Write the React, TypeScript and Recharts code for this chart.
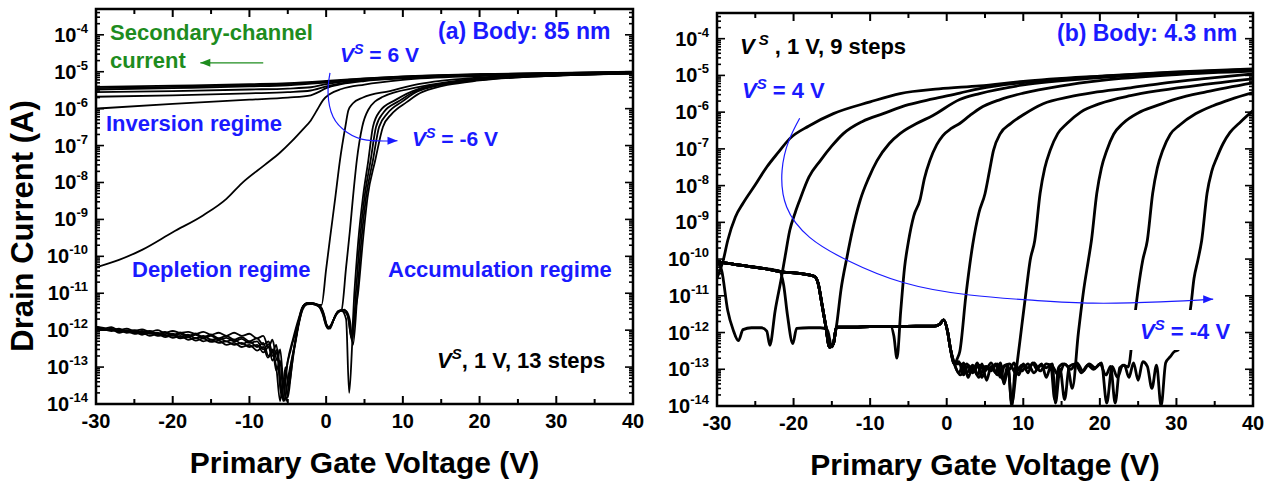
import React from "react";
import { LineChart, Line, XAxis, YAxis, ReferenceArea } from "recharts";

type P = [number, number];

const FONT = "'Liberation Sans', Arial, Helvetica, sans-serif";
const BLUE = "#1a1aff";
const GREEN = "#1e8c1e";

// axis ticks
const xTicks = [-30, -25, -20, -15, -10, -5, 0, 5, 10, 15, 20, 25, 30, 35, 40];
const yDecades = [1e-14, 1e-13, 1e-12, 1e-11, 1e-10, 1e-9, 1e-8, 1e-7, 1e-6, 1e-5, 1e-4];
const yMinor = [2, 3, 4, 5, 6, 7, 8, 9];
const yTop = 5e-4;

// ---------- panel (a): body 85 nm, Vs = 6 ... -6 V ----------
const aVs6: P[] = [[-30, 3.9e-6], [-20, 4.2e-6], [-10, 4.6e-6], [-5, 4.9e-6], [0, 5.6e-6], [5, 6.6e-6], [10, 7.5e-6], [20, 8.6e-6], [30, 9.3e-6], [40, 1.0e-5]];
const aVs5: P[] = [[-30, 3.6e-6], [-20, 3.9e-6], [-10, 4.3e-6], [-5, 4.6e-6], [0, 5.4e-6], [5, 6.5e-6], [10, 7.4e-6], [20, 8.5e-6], [30, 9.2e-6], [40, 9.9e-6]];
const aVs4: P[] = [[-30, 3.3e-6], [-20, 3.6e-6], [-10, 4.0e-6], [-5, 4.3e-6], [0, 5.1e-6], [5, 6.3e-6], [10, 7.2e-6], [20, 8.4e-6], [30, 9.1e-6], [40, 9.8e-6]];
const aVs3: P[] = [[-30, 2.8e-6], [-20, 3.0e-6], [-10, 3.3e-6], [-5, 3.5e-6], [-2, 3.8e-6], [0, 4.6e-6], [3, 5.7e-6], [10, 7.0e-6], [20, 8.3e-6], [30, 9.0e-6], [40, 9.7e-6]];
const aVs2: P[] = [[-30, 2.1e-6], [-20, 2.3e-6], [-10, 2.6e-6], [-5, 2.8e-6], [-2, 3.1e-6], [0, 4.0e-6], [3, 5.3e-6], [10, 6.8e-6], [20, 8.1e-6], [30, 8.9e-6], [40, 9.6e-6]];
const aVs1: P[] = [[-30, 1.0e-6], [-20, 1.35e-6], [-10, 1.75e-6], [-5, 2.0e-6], [-2, 2.3e-6], [-1, 2.8e-6], [0, 3.6e-6], [2, 4.6e-6], [5, 5.6e-6], [10, 6.6e-6], [20, 8.0e-6], [30, 8.8e-6], [40, 9.5e-6]];
const aVs0: P[] = [[-30, 5e-11], [-27, 8e-11], [-24, 1.5e-10], [-20, 4.5e-10], [-16, 1.3e-9], [-13, 3.6e-9], [-11, 9.5e-9], [-8, 3.0e-8], [-6, 6.5e-8], [-4.5, 1.3e-7], [-3, 2.8e-7], [-2, 4.8e-7], [-1.2, 9e-7], [-0.4, 1.7e-6], [0.5, 2.5e-6], [2, 3.4e-6], [5, 4.5e-6], [10, 6.0e-6], [20, 7.6e-6], [30, 8.6e-6], [40, 9.4e-6]];
const aVsM1: P[] = [[-30, 1.25e-12], [-29, 1.1e-12], [-28, 1.2e-12], [-27, 1.0e-12], [-26, 1.1e-12], [-25, 9.5e-13], [-24, 1.05e-12], [-23, 9e-13], [-22, 1.0e-12], [-21, 8.5e-13], [-20, 9.5e-13], [-19, 8.5e-13], [-18, 9e-13], [-17, 8e-13], [-16, 9e-13], [-15, 7.5e-13], [-14, 8.5e-13], [-13, 7e-13], [-12, 8.5e-13], [-11, 7e-13], [-10, 8e-13], [-9, 6e-13], [-8.2, 7e-13], [-7.5, 3.5e-13], [-7, 5.5e-13], [-6.4, 1.5e-13], [-6, 3e-13], [-5.5, 3e-14], [-5, 1.5e-13], [-4.3, 6e-13], [-3.6, 2e-12], [-3, 4.5e-12], [-2.2, 5.2e-12], [-1.5, 5e-12], [-0.6, 4.8e-12], [0, 4.5e-11], [0.5, 3e-10], [1.2, 4e-9], [1.8, 4e-8], [2.5, 3.2e-7], [2.9, 9e-7], [3.5, 1.4e-6], [4.8, 2e-6], [8.3, 3e-6], [12, 4.6e-6], [20, 7.0e-6], [30, 8.4e-6], [40, 9.3e-6]];
const aVsM2: P[] = [[-30, 1.2e-12], [-29, 1.15e-12], [-28, 1.0e-12], [-27, 1.1e-12], [-26, 9e-13], [-25, 1.0e-12], [-24, 8.5e-13], [-23, 9.5e-13], [-22, 8e-13], [-21, 9e-13], [-20, 7.5e-13], [-19, 8.5e-13], [-18, 7e-13], [-17, 8e-13], [-16, 6.5e-13], [-15, 7.5e-13], [-14, 6e-13], [-13, 7e-13], [-12, 5.5e-13], [-11, 6.5e-13], [-10, 5e-13], [-9, 6e-13], [-8.2, 4e-13], [-7.5, 5e-13], [-7, 2.5e-13], [-6.5, 4e-13], [-6, 5e-14], [-5.6, 1.2e-14], [-5.2, 8e-14], [-4.6, 3e-13], [-3.8, 1.2e-12], [-3.1, 4e-12], [-2.4, 5.5e-12], [-1.6, 5.3e-12], [-0.8, 4.5e-12], [-0.3, 2.8e-12], [0.1, 1.3e-12], [0.5, 1.1e-12], [1, 2e-12], [1.5, 3.2e-12], [2.0, 3.5e-12], [2.6, 5e-11], [3.1, 5e-10], [3.5, 4e-9], [4.0, 4e-8], [4.7, 3.2e-7], [5.5, 9.3e-7], [7.4, 2.1e-6], [12, 3.8e-6], [20, 6.6e-6], [30, 8.2e-6], [40, 9.2e-6]];
const aVsM3: P[] = [[-30, 1.15e-12], [-29, 1.0e-12], [-28, 1.1e-12], [-27, 9e-13], [-26, 1.0e-12], [-25, 8.5e-13], [-24, 9.5e-13], [-23, 8e-13], [-22, 8.5e-13], [-21, 7e-13], [-20, 8e-13], [-19, 6.5e-13], [-18, 7.5e-13], [-17, 6e-13], [-16, 7e-13], [-15, 5.5e-13], [-14, 6e-13], [-13, 5e-13], [-12, 5.5e-13], [-11, 4.2e-13], [-10, 5e-13], [-9, 3.5e-13], [-8.2, 4.5e-13], [-7.5, 2e-13], [-7, 3e-13], [-6.5, 8e-14], [-6, 1.5e-13], [-5.5, 1.2e-14], [-4.9, 6e-14], [-4.3, 2.5e-13], [-3.6, 1.5e-12], [-2.9, 4.8e-12], [-2.2, 5.5e-12], [-1.4, 4.8e-12], [-0.7, 4.2e-12], [-0.2, 2.2e-12], [0.2, 1.1e-12], [0.7, 1.4e-12], [1.2, 2.5e-12], [1.8, 3.3e-12], [2.4, 3.6e-12], [2.9, 2e-12], [3.3, 6e-13], [3.7, 1.2e-11], [4.2, 2.8e-10], [4.8, 4e-9], [5.5, 4e-8], [6.1, 3.2e-7], [7, 8.5e-7], [9, 1.7e-6], [12, 3.4e-6], [20, 6.2e-6], [30, 8.0e-6], [40, 9.1e-6]];
const aVsM4: P[] = [[-30, 1.2e-12], [-29, 1.05e-12], [-28, 9.5e-13], [-27, 1.0e-12], [-26, 8.5e-13], [-25, 9e-13], [-24, 7.5e-13], [-23, 8.5e-13], [-22, 7e-13], [-21, 7.5e-13], [-20, 6.2e-13], [-19, 7e-13], [-18, 5.5e-13], [-17, 6.2e-13], [-16, 5e-13], [-15, 5.5e-13], [-14, 4.5e-13], [-13, 5e-13], [-12, 4e-13], [-11, 4.5e-13], [-10, 3.5e-13], [-9, 4e-13], [-8.2, 2.5e-13], [-7.5, 3.5e-13], [-7, 1.5e-13], [-6.4, 2.5e-13], [-5.9, 2e-14], [-5.4, 5e-14], [-5, 1.5e-14], [-4.5, 1e-13], [-3.8, 8e-13], [-3.2, 3e-12], [-2.5, 5e-12], [-1.7, 5.2e-12], [-1, 4.6e-12], [-0.4, 2.5e-12], [0.1, 1.2e-12], [0.6, 1.3e-12], [1.1, 2.2e-12], [1.7, 3.4e-12], [2.3, 3.2e-12], [2.8, 2.5e-12], [3.4, 5e-13], [3.9, 1.2e-11], [4.4, 2.8e-10], [5.0, 4e-9], [5.8, 4e-8], [6.5, 3.2e-7], [7.5, 8e-7], [9.5, 1.6e-6], [12, 3.2e-6], [20, 6.1e-6], [30, 7.9e-6], [40, 9.0e-6]];
const aVsM5: P[] = [[-30, 1.1e-12], [-29, 1.0e-12], [-28, 1.05e-12], [-27, 8.5e-13], [-26, 9.5e-13], [-25, 8e-13], [-24, 8.5e-13], [-23, 7e-13], [-22, 8e-13], [-21, 6.5e-13], [-20, 7.2e-13], [-19, 6e-13], [-18, 6.5e-13], [-17, 5.2e-13], [-16, 6e-13], [-15, 4.8e-13], [-14, 5.2e-13], [-13, 4e-13], [-12, 4.5e-13], [-11, 3.5e-13], [-10, 4e-13], [-9, 2.8e-13], [-8.2, 3.5e-13], [-7.6, 1.8e-13], [-7, 2.5e-13], [-6.5, 1e-13], [-6, 1.2e-14], [-5.6, 4e-14], [-5.2, 1.2e-14], [-4.7, 8e-14], [-4, 5e-13], [-3.4, 2.5e-12], [-2.7, 5.2e-12], [-2, 5.5e-12], [-1.2, 4.8e-12], [-0.5, 3.2e-12], [0, 1.5e-12], [0.4, 1.2e-12], [0.9, 1.8e-12], [1.5, 3e-12], [2.1, 3.6e-12], [2.6, 3.3e-12], [3.1, 1.8e-12], [3.5, 4e-13], [4.1, 1.2e-11], [4.6, 2.8e-10], [5.2, 4e-9], [6.1, 4e-8], [6.9, 3.2e-7], [8, 7.5e-7], [10, 1.6e-6], [12, 3.0e-6], [20, 6.0e-6], [30, 7.8e-6], [40, 9.0e-6]];
const aVsM6: P[] = [[-30, 1.25e-12], [-29, 1.1e-12], [-28, 1.0e-12], [-27, 1.05e-12], [-26, 9e-13], [-25, 9.5e-13], [-24, 8e-13], [-23, 9e-13], [-22, 7.5e-13], [-21, 8.5e-13], [-20, 7e-13], [-19, 8e-13], [-18, 6.5e-13], [-17, 7.5e-13], [-16, 6e-13], [-15, 7e-13], [-14, 5.5e-13], [-13, 6.2e-13], [-12, 5e-13], [-11, 5.8e-13], [-10, 4.5e-13], [-9, 5e-13], [-8.2, 3e-13], [-7.5, 4.2e-13], [-7, 2e-13], [-6.3, 3e-13], [-5.8, 1.5e-14], [-5.3, 1e-13], [-4.9, 3e-14], [-4.2, 3e-13], [-3.5, 1.8e-12], [-2.8, 5e-12], [-2.1, 5.4e-12], [-1.3, 5e-12], [-0.6, 3.6e-12], [-0.1, 1.6e-12], [0.3, 1.1e-12], [0.8, 1.6e-12], [1.4, 2.8e-12], [2, 3.4e-12], [2.6, 2e-12], [3.0, 2e-14], [3.5, 1e-12], [4.2, 1.2e-11], [4.8, 2.8e-10], [5.4, 4e-9], [6.4, 4e-8], [7.4, 3.2e-7], [8.5, 7e-7], [10.5, 1.5e-6], [12.5, 2.8e-6], [20, 5.8e-6], [30, 7.8e-6], [40, 8.9e-6]];

// annotation paths, panel (a)
const aArc: P[] = [[0.5, 9.3e-6], [0.25, 2.7e-6], [0.9, 6e-7], [2.7, 2.3e-7], [5.3, 1.4e-7], [9.3, 1.35e-7]];
const aGreenArrow: P[] = [[-8.2, 1.74e-5], [-16.4, 1.74e-5]];

// ---------- panel (b): body 4.3 nm, Vs = 4 ... -4 V ----------
const bVs4: P[] = [[-30, 3e-11], [-29.2, 9e-11], [-28.6, 3.2e-10], [-27.6, 1.4e-9], [-26.6, 3.3e-9], [-25, 1.05e-8], [-23.5, 3.2e-8], [-22, 8e-8], [-20.5, 1.9e-7], [-18, 4.2e-7], [-14.8, 9.1e-7], [-10, 1.9e-6], [-6.1, 3.2e-6], [-1, 4.3e-6], [4.3, 5.2e-6], [10, 6.9e-6], [20, 9.6e-6], [30, 1.25e-5], [40, 1.5e-5]];
const bVs3: P[] = [[-30, 8.5e-11], [-29.4, 5e-11], [-28.6, 4e-12], [-27.9, 1.2e-12], [-27.2, 6e-13], [-26.6, 1.2e-12], [-25.5, 1.35e-12], [-24.2, 1.35e-12], [-23.5, 1.1e-12], [-23.1, 4.5e-13], [-22.4, 4e-12], [-21.6, 3e-11], [-21.1, 1.2e-10], [-20.5, 6e-10], [-19.8, 1.8e-9], [-19.2, 4e-9], [-18, 1.7e-8], [-16.5, 4.8e-8], [-15, 1.2e-7], [-13.5, 2.6e-7], [-11, 5.6e-7], [-8.3, 9.1e-7], [-5, 1.6e-6], [-1.8, 2.3e-6], [1.7, 3.3e-6], [4.3, 4.4e-6], [10, 6.4e-6], [20, 9.3e-6], [30, 1.2e-5], [40, 1.45e-5]];
const bVs2: P[] = [[-30, 8.5e-11], [-27, 6.8e-11], [-24, 5.6e-11], [-21.8, 4.6e-11], [-21.3, 2e-11], [-20.8, 3e-12], [-20.1, 5e-13], [-19.6, 1.3e-12], [-18, 1.35e-12], [-16.5, 1.35e-12], [-15.6, 1.2e-12], [-15.0, 4e-13], [-14.4, 1.5e-12], [-13.8, 1.5e-11], [-13.0, 1.2e-10], [-12.4, 5e-10], [-11.3, 4e-9], [-10.2, 1.6e-8], [-9.1, 4.8e-8], [-7.5, 1.4e-7], [-6.1, 2.6e-7], [-4, 4.8e-7], [-1.8, 8.1e-7], [1.7, 2.2e-6], [4.3, 3.2e-6], [10, 5.5e-6], [20, 8.7e-6], [30, 1.15e-5], [40, 1.38e-5]];
// common off-state trace (thick) shared by Vs = 1 ... -4
const bOffA: P[] = [[-30, 8.5e-11], [-27, 6.8e-11], [-24, 5.6e-11], [-21.5, 4.5e-11], [-19, 4e-11], [-17.3, 3.4e-11], [-16.8, 2.2e-11], [-16.3, 6e-12], [-15.8, 1.5e-12], [-15.3, 4e-13], [-14.8, 5e-13], [-14.4, 1.4e-12], [-12, 1.4e-12], [-10, 1.45e-12], [-7.3, 1.45e-12]];
const bOffB: P[] = [[-6.5, 1.45e-12], [-4, 1.5e-12], [-1.6, 1.5e-12], [-0.9, 1.7e-12], [-0.4, 2.2e-12], [0.1, 1.1e-12], [0.5, 3.5e-13], [1, 1.4e-13]];
const bVs1: P[] = [[-6.9, 8e-13], [-6.5, 2e-13], [-6.0, 4e-12], [-5.5, 6e-11], [-5.0, 3e-10], [-4.3, 1.5e-9], [-3.5, 4e-9], [-2.9, 1.6e-8], [-2.2, 4.8e-8], [-1.3, 1.3e-7], [-0.5, 2.3e-7], [0.6, 3.6e-7], [1.7, 4.9e-7], [3, 8e-7], [4.3, 1.26e-6], [7, 2.2e-6], [10, 3.3e-6], [15, 5.2e-6], [20, 7.2e-6], [30, 1.05e-5], [40, 1.3e-5]];
const bVs0: P[] = [[1.4, 2e-13], [1.7, 3e-13], [2.5, 1e-11], [3.4, 2.5e-10], [4.2, 1.8e-9], [5.0, 6e-9], [5.6, 2.6e-8], [6.1, 9e-8], [7, 2.6e-7], [8.3, 4.8e-7], [10, 8.5e-7], [12.6, 1.7e-6], [16, 2.6e-6], [19.1, 3.4e-6], [24, 4.6e-6], [27.9, 6e-6], [34, 8.3e-6], [40, 1.1e-5]];
const bVsM1: P[] = [[1.6, 8e-14], [2.2, 1.5e-13], [2.8, 6e-14], [3.4, 1.2e-13], [4, 7e-14], [4.6, 1.4e-13], [5.2, 5e-14], [5.8, 1.2e-13], [6.4, 8e-14], [7, 1.5e-13], [7.5, 4e-14], [8, 1.1e-13], [8.5, 1.2e-14], [9.1, 1e-13], [9.8, 1.5e-12], [10.4, 1.5e-11], [10.9, 9.3e-11], [11.5, 3.2e-10], [12.2, 6.2e-9], [12.8, 3e-8], [13.5, 9e-8], [14.5, 2.6e-7], [15.7, 4.9e-7], [17.5, 1e-6], [20, 1.7e-6], [24, 2.8e-6], [27.9, 3.9e-6], [34, 5.8e-6], [40, 8.1e-6]];
const bVsM2: P[] = [[1.6, 1.6e-13], [2.2, 7e-14], [2.8, 1.3e-13], [3.4, 9e-14], [4, 1.5e-13], [4.6, 6e-14], [5.2, 1.2e-13], [5.8, 9e-14], [6.4, 1.4e-13], [7, 6e-14], [7.6, 1.3e-13], [8.2, 1e-13], [8.8, 1.5e-13], [9.4, 7e-14], [10, 1.4e-13], [10.6, 8e-14], [11.2, 1.5e-13], [11.8, 1e-13], [12.4, 1.4e-13], [13, 6e-14], [13.6, 1.2e-13], [14.1, 1.5e-14], [14.6, 1.1e-13], [15.2, 1.4e-13], [15.8, 1.2e-13], [16.4, 3e-14], [17.2, 1e-12], [17.9, 1.5e-11], [18.5, 9.3e-11], [18.9, 3.2e-10], [19.6, 6.2e-9], [20.2, 3e-8], [20.9, 9e-8], [21.8, 2.5e-7], [23.0, 4.9e-7], [25, 9.5e-7], [27.4, 1.5e-6], [30, 2.3e-6], [34, 3.6e-6], [40, 6.3e-6]];
const bVsM3: P[] = [[1.8, 7e-14], [2.6, 1.4e-13], [3.4, 8e-14], [4.2, 1.3e-13], [5, 9e-14], [5.8, 1.5e-13], [6.6, 7e-14], [7.4, 1.2e-13], [8.2, 1.4e-13], [9, 8e-14], [9.8, 1.3e-13], [10.6, 1.1e-13], [11.4, 1.5e-13], [12.2, 9e-14], [13, 1.4e-13], [13.8, 1.2e-13], [14.6, 7e-14], [15.4, 1.4e-13], [16.2, 1e-13], [17, 1.5e-13], [17.8, 9e-14], [18.6, 1.4e-13], [19.4, 1.1e-13], [20.2, 1.5e-13], [20.9, 1.2e-14], [21.6, 1.2e-13], [22.3, 6e-14], [23, 1.3e-13], [23.7, 1.15e-13], [24.4, 1.5e-12], [25.0, 1.5e-11], [25.6, 9.3e-11], [26.2, 3.2e-10], [26.9, 6.2e-9], [27.5, 3e-8], [28.2, 9e-8], [29.2, 2.5e-7], [30.4, 4.4e-7], [32.5, 9e-7], [34.8, 1.5e-6], [37, 2.2e-6], [40, 3.4e-6]];
const bVsM4: P[] = [[1.8, 1.4e-13], [2.6, 8e-14], [3.4, 1.3e-13], [4.2, 6e-14], [5, 1.2e-13], [5.8, 1e-13], [6.6, 1.4e-13], [7.4, 5e-14], [8, 1.3e-13], [8.5, 1e-14], [9, 1.2e-13], [9.8, 9e-14], [10.6, 1.4e-13], [11.4, 8e-14], [12.2, 1.3e-13], [13, 1.1e-13], [13.8, 1.4e-13], [14.2, 1.2e-14], [14.8, 1e-13], [15.4, 1.5e-14], [16, 1.2e-13], [16.8, 1.4e-13], [17.6, 8e-14], [18.4, 1.3e-13], [19.2, 1e-13], [20, 1.4e-13], [20.8, 7e-14], [21.4, 1.2e-13], [22, 1.2e-14], [22.6, 1.1e-13], [23.2, 1.3e-13], [23.8, 6e-14], [24.4, 1.5e-13], [25, 5e-14], [25.6, 1.6e-13], [26.2, 1.2e-13], [26.8, 3e-14], [27.4, 1.3e-13], [28, 1e-14], [28.6, 1.5e-13], [29.2, 2.2e-13], [29.7, 3e-13], [30.2, 3.3e-13], [30.7, 8e-13], [31.3, 2e-12], [31.8, 4e-12], [32.3, 3e-11], [32.8, 9.3e-11], [33.3, 3.2e-10], [34.0, 6.2e-9], [34.6, 2.4e-8], [35.3, 5.9e-8], [36.1, 1.4e-7], [37.0, 2.8e-7], [38.4, 5.5e-7], [40, 1.1e-6]];

// annotation path, panel (b)
const bArc: P[] = [[-19.2, 6.8e-7], [-20.6, 1.7e-7], [-21.5, 2.6e-8], [-20.9, 2.6e-9], [-17.9, 3.9e-10], [-13.0, 9.3e-11], [-5.7, 2.3e-11], [3.0, 1.05e-11], [11.5, 7.5e-12], [19.1, 6.3e-12], [27.9, 6.8e-12], [34.8, 8.1e-12]];

const panelA: P[][] = [aVs6, aVs5, aVs4, aVs3, aVs2, aVs1, aVs0, aVsM1, aVsM2, aVsM3, aVsM4, aVsM5, aVsM6];
const panelB: P[][] = [
  bVs4,
  bVs3,
  bVs2,
  [...bOffA, ...bVs1],
  [...bOffA, ...bOffB, ...bVs0],
  [...bOffA, ...bOffB, ...bVsM1],
  [...bOffA, ...bOffB, ...bVsM2],
  [...bOffA, ...bOffB, ...bVsM3],
  [...bOffA, ...bOffB, ...bVsM4],
];

const toRows = (pts: P[]) => pts.map(([x, y]) => ({ x, y }));

const yTicks = yDecades
  .flatMap((d) => [d, ...yMinor.map((m) => m * d)])
  .filter((v) => v <= yTop);
const decadeSet = new Set(yDecades);

type Box = { top: number; bottom: number; left: number; right: number };

const tickFont = { fontFamily: FONT, fontWeight: 700, fontSize: 20 };

const makeXTick = (b: Box) => (props: any) => {
  const { x, payload, index } = props;
  const v = payload.value as number;
  const major = v % 10 === 0;
  const len = major ? 8 : 5;
  return (
    <g key={`xt${index}`}>
      <line x1={x} x2={x} y1={b.bottom} y2={b.bottom - len} stroke="#000" strokeWidth={2} />
      <line x1={x} x2={x} y1={b.top} y2={b.top + len} stroke="#000" strokeWidth={2} />
      {major && (
        <text x={x} y={b.bottom + 24} textAnchor="middle" fill="#000" style={tickFont}>
          {v}
        </text>
      )}
    </g>
  );
};

const makeYTick = (b: Box) => (props: any) => {
  const { y, payload, index } = props;
  const v = payload.value as number;
  const major = decadeSet.has(v);
  const len = major ? 8 : 4;
  return (
    <g key={`yt${index}`}>
      <line x1={b.left} x2={b.left + len} y1={y} y2={y} stroke="#000" strokeWidth={1.6} />
      <line x1={b.right} x2={b.right - len} y1={y} y2={y} stroke="#000" strokeWidth={1.6} />
      {major && (
        <text x={b.left - 8} y={y + 7} textAnchor="end" fill="#000" style={tickFont}>
          10
          <tspan dy={-9} style={{ fontSize: 13 }}>
            {Math.round(Math.log10(v))}
          </tspan>
        </text>
      )}
    </g>
  );
};

const arrowDot = (n: number, dir: number, color: string) => (props: any) => {
  const { cx, cy, index } = props;
  if (index !== n - 1) return <g key={`ad${index}`} />;
  return (
    <polygon
      key={`ad${index}`}
      points={`${cx},${cy} ${cx - dir * 10},${cy - 4} ${cx - dir * 10},${cy + 4}`}
      fill={color}
    />
  );
};

const boxA: Box = { top: 9, bottom: 404, left: 96, right: 633 };
const boxB: Box = { top: 13, bottom: 406, left: 57, right: 593 };

function Panel({ w, box, curves, lw, arrows }: { w: number; box: Box; curves: P[][]; lw: number; arrows: { pts: P[]; dir: number; color: string }[] }) {
  return (
    <LineChart
      width={w}
      height={481}
      margin={{ top: box.top, bottom: 481 - box.bottom, left: box.left, right: w - box.right }}
    >
      <XAxis
        type="number"
        dataKey="x"
        domain={[-30, 40]}
        ticks={xTicks}
        interval={0}
        mirror
        axisLine={false}
        tickLine={false}
        tick={makeXTick(box)}
        allowDataOverflow
      />
      <YAxis
        type="number"
        scale="log"
        domain={[1e-14, yTop]}
        ticks={yTicks}
        interval={0}
        mirror
        axisLine={false}
        tickLine={false}
        tick={makeYTick(box)}
        allowDataOverflow
      />
      <ReferenceArea x1={-30} x2={40} y1={1e-14} y2={yTop} fill="none" stroke="#000" strokeWidth={2.5} fillOpacity={0} ifOverflow="visible" />
      {curves.map((c, i) => (
        <Line
          key={`c${i}`}
          data={toRows(c)}
          dataKey="y"
          type="monotone"
          stroke="#000"
          strokeWidth={lw}
          dot={false}
          activeDot={false}
          isAnimationActive={false}
        />
      ))}
      {arrows.map((a, i) => (
        <Line
          key={`a${i}`}
          data={toRows(a.pts)}
          dataKey="y"
          type="natural"
          stroke={a.color}
          strokeWidth={1.2}
          dot={arrowDot(a.pts.length, a.dir, a.color)}
          activeDot={false}
          isAnimationActive={false}
        />
      ))}
    </LineChart>
  );
}

const Vs = ({ x, y, size, fill, rest, gap = 0 }: { x: number; y: number; size: number; fill: string; rest: string; gap?: number }) => (
  <text x={x} y={y} fontFamily={FONT} fontWeight="bold" fontSize={size} fill={fill}>
    <tspan fontStyle="italic">V</tspan>
    <tspan fontStyle="italic" fontSize={size * 0.68} dx={gap} dy={-size * 0.4}>
      S
    </tspan>
    <tspan dy={size * 0.4}>{rest}</tspan>
  </text>
);

export default function App() {
  const t = { fontFamily: FONT, fontWeight: "bold" as const };
  return (
    <div style={{ position: "absolute", left: 0, top: 0, width: 1266, height: 481, background: "#fff" }}>
      <div style={{ position: "absolute", left: 0, top: 0 }}>
        <Panel w={660} box={boxA} curves={panelA} lw={1.8} arrows={[{ pts: aArc, dir: 1, color: BLUE }, { pts: aGreenArrow, dir: -1, color: GREEN }]} />
      </div>
      <div style={{ position: "absolute", left: 660, top: 0 }}>
        <Panel w={606} box={boxB} curves={panelB} lw={2.8} arrows={[{ pts: bArc, dir: 1, color: BLUE }]} />
      </div>
      <svg width={1266} height={481} style={{ position: "absolute", left: 0, top: 0, pointerEvents: "none" }}>
        <text {...t} fontSize={31} textAnchor="middle" transform="translate(33,226) rotate(-90)">
          Drain Current (A)
        </text>
        <text {...t} fontSize={30} textAnchor="middle" x={364.5} y={473}>
          Primary Gate Voltage (V)
        </text>
        <text {...t} fontSize={30} textAnchor="middle" x={985} y={475}>
          Primary Gate Voltage (V)
        </text>

        <text {...t} fontSize={22} fill={GREEN} x={110} y={40}>Secondary-channel</text>
        <text {...t} fontSize={22} fill={GREEN} x={110} y={68}>current</text>
        <text {...t} fontSize={22} fill={BLUE} x={106} y={131}>Inversion regime</text>
        <text {...t} fontSize={23} fill={BLUE} x={438} y={39}>(a) Body: 85 nm</text>
        <Vs x={340} y={62} size={21} fill={BLUE} rest=" = 6 V" />
        <Vs x={412} y={146} size={21} fill={BLUE} rest=" = -6 V" />
        <text {...t} fontSize={22} fill={BLUE} x={132} y={277}>Depletion regime</text>
        <text {...t} fontSize={22} fill={BLUE} x={388} y={277}>Accumulation regime</text>
        <Vs x={437} y={368} size={22} fill="#000" rest=", 1 V, 13 steps" />

        <Vs x={740} y={54} size={22} fill="#000" rest=" , 1 V, 9 steps" gap={4} />
        <Vs x={742} y={98} size={22} fill={BLUE} rest=" = 4 V" />
        <text {...t} fontSize={23} fill={BLUE} x={1057} y={41}>(b) Body: 4.3 nm</text>
        <rect x={1127} y={310} width={113} height={40} fill="#fff" />
        <Vs x={1140} y={339} size={22} fill={BLUE} rest=" = -4 V" />
      </svg>
    </div>
  );
}
